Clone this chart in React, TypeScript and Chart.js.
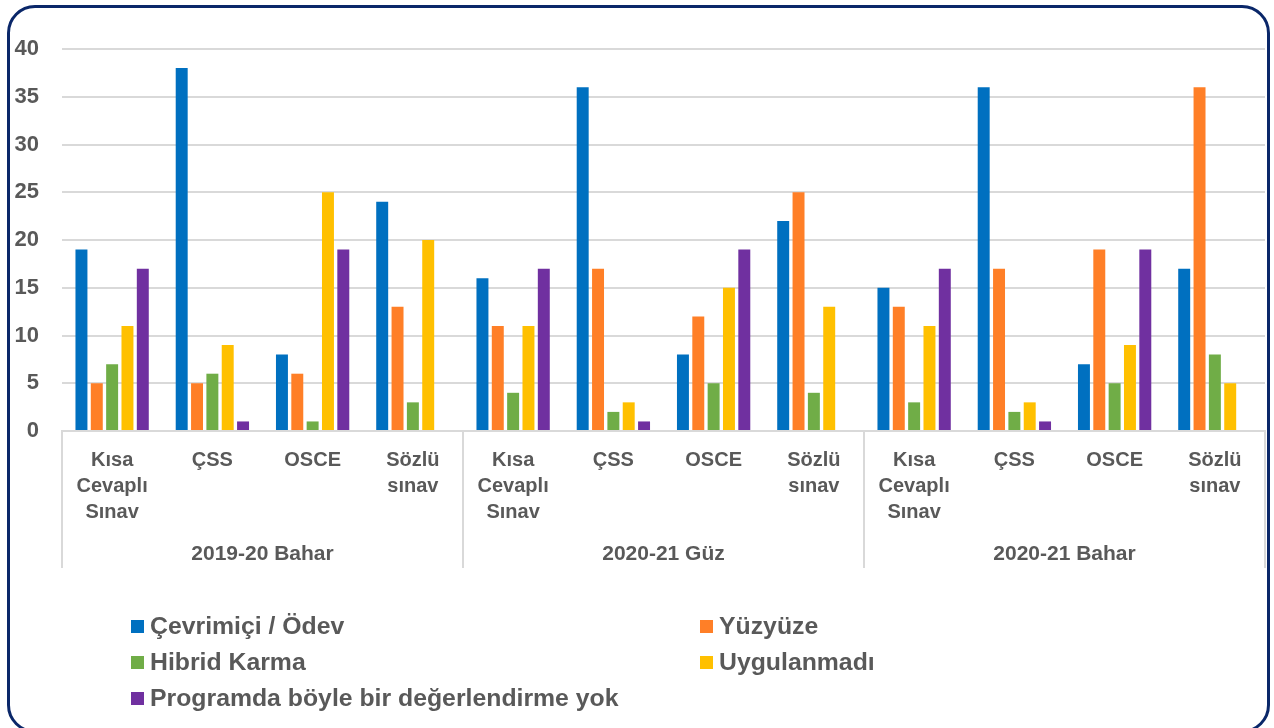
import React, { useEffect, useRef } from "react";
import { Chart, registerables } from "chart.js";

Chart.register(...registerables);

// ---------- data ----------
const periods = ["2019-20 Bahar", "2020-21 Güz", "2020-21 Bahar"];
const examTypes: string[][] = [["Kısa", "Cevaplı", "Sınav"], ["ÇSS"], ["OSCE"], ["Sözlü", "sınav"]];
const seriesNames = [
  "Çevrimiçi / Ödev",
  "Yüzyüze",
  "Hibrid Karma",
  "Uygulanmadı",
  "Programda böyle bir değerlendirme yok",
];
const seriesColors = ["#0070C0", "#FF7F27", "#70AD47", "#FFC000", "#7030A0"];

const onlineHomework = [19, 38, 8, 24, 16, 36, 8, 22, 15, 36, 7, 17];
const faceToFace = [5, 5, 6, 13, 11, 17, 12, 25, 13, 17, 19, 36];
const hybrid = [7, 6, 1, 3, 4, 2, 5, 4, 3, 2, 5, 8];
const notApplied = [11, 9, 25, 20, 11, 3, 15, 13, 11, 3, 9, 5];
const noSuchAssessment = [17, 1, 19, 0, 17, 1, 19, 0, 17, 1, 19, 0];
const seriesValues = [onlineHomework, faceToFace, hybrid, notApplied, noSuchAssessment];

const yMin = 0;
const yMax = 40;
const yStep = 5;

// ---------- style ----------
const FONT = "'Liberation Sans', Arial, sans-serif";
const TEXT = "#595959";
const GRID = "#D9D9D9";

const groupAxisPlugin = {
  id: "groupAxis",
  afterDraw(chart: any) {
    const { ctx, chartArea, scales } = chart;
    const x = scales.x;
    const n = examTypes.length;
    const step = x.getPixelForValue(1) - x.getPixelForValue(0);
    const top = chartArea.bottom;
    const bottom = chartArea.bottom + 137;
    ctx.save();
    ctx.strokeStyle = GRID;
    ctx.lineWidth = 2;
    for (let g = 0; g <= periods.length; g++) {
      const xp =
        g < periods.length
          ? x.getPixelForValue(g * n) - step / 2
          : x.getPixelForValue(periods.length * n - 1) + step / 2;
      ctx.beginPath();
      ctx.moveTo(Math.round(xp), top);
      ctx.lineTo(Math.round(xp), bottom);
      ctx.stroke();
    }
    ctx.fillStyle = TEXT;
    ctx.font = `bold 21px ${FONT}`;
    ctx.textAlign = "center";
    ctx.textBaseline = "middle";
    periods.forEach((p, g) => {
      const cx = (x.getPixelForValue(g * n) + x.getPixelForValue(g * n + n - 1)) / 2;
      ctx.fillText(p, cx, chartArea.bottom + 123);
    });
    ctx.restore();
  },
};

export default function App() {
  const canvasRef = useRef<HTMLCanvasElement | null>(null);

  useEffect(() => {
    if (!canvasRef.current) return;
    const labels: string[][] = [];
    periods.forEach(() => examTypes.forEach((e) => labels.push(e)));
    const chart = new Chart(canvasRef.current, {
      type: "bar",
      data: {
        labels,
        datasets: seriesNames.map((name, i) => ({
          label: name,
          data: seriesValues[i],
          backgroundColor: seriesColors[i],
          borderWidth: 0,
          categoryPercentage: 0.765,
          barPercentage: 0.78,
        })),
      },
      options: {
        animation: false,
        responsive: false,
        devicePixelRatio: 1,
        layout: { padding: { top: 49, left: 0, right: 9, bottom: 160 } },
        plugins: {
          legend: { display: false },
          tooltip: { enabled: false },
        },
        scales: {
          x: {
            grid: { display: false, drawTicks: false },
            border: { display: true, color: GRID, width: 2 },
            ticks: {
              color: TEXT,
              font: { family: FONT, size: 20, weight: "bold", lineHeight: 1.3 },
              padding: 16,
              maxRotation: 0,
              autoSkip: false,
            },
            afterFit(scale: any) {
              scale.height = 137;
            },
          },
          y: {
            min: yMin,
            max: yMax,
            grid: { color: GRID, lineWidth: 2, drawTicks: false },
            border: { display: false },
            ticks: {
              stepSize: yStep,
              color: TEXT,
              font: { family: FONT, size: 22, weight: "bold" },
              padding: 23,
            },
            afterFit(scale: any) {
              scale.width = 62;
            },
          },
        },
      },
      plugins: [groupAxisPlugin],
    });
    return () => chart.destroy();
  }, []);

  const legendRows = [
    [0, 1],
    [2, 3],
    [4],
  ];
  const colLeft = [131, 700];

  return (
    <div
      style={{
        position: "fixed",
        left: 0,
        top: 0,
        width: 1274,
        height: 728,
        background: "#fff",
        overflow: "hidden",
      }}
    >
      <canvas
        ref={canvasRef}
        width={1274}
        height={728}
        style={{ position: "absolute", left: 0, top: 0, width: 1274, height: 728 }}
      />
      <div
        style={{
          position: "absolute",
          left: 7,
          top: 5,
          width: 1263,
          height: 728,
          border: "3px solid #0A2769",
          borderRadius: 28,
          boxSizing: "border-box",
          pointerEvents: "none",
        }}
      />
      {legendRows.map((row, r) =>
        row.map((si, c) => (
          <div
            key={si}
            style={{
              position: "absolute",
              left: colLeft[c],
              top: 626 + r * 36 - 15,
              height: 30,
              display: "flex",
              alignItems: "center",
              fontFamily: FONT,
              fontWeight: "bold",
              fontSize: 24.8,
              color: TEXT,
              whiteSpace: "nowrap",
            }}
          >
            <span
              style={{
                display: "inline-block",
                width: 13,
                height: 13,
                background: seriesColors[si],
                marginRight: 6,
              }}
            />
            {seriesNames[si]}
          </div>
        ))
      )}
    </div>
  );
}
